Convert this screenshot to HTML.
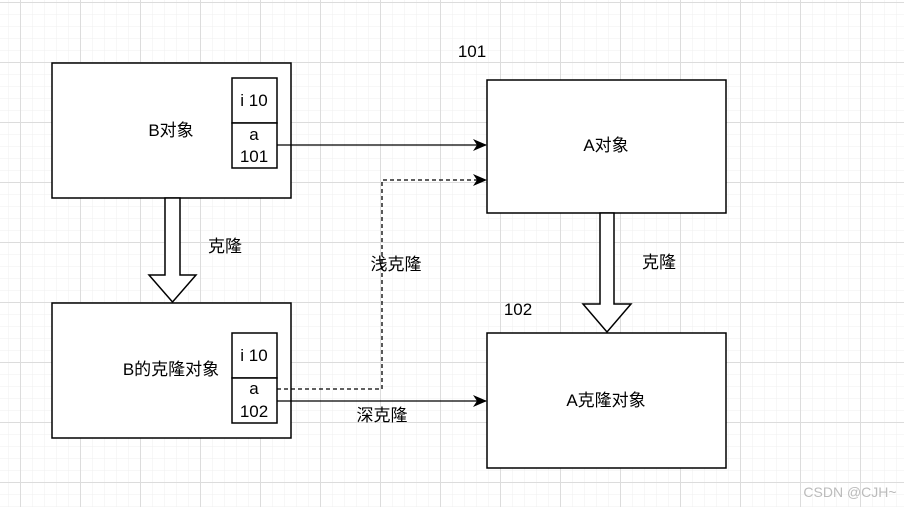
<!DOCTYPE html>
<html><head><meta charset="utf-8"><style>
body{margin:0;width:904px;height:507px;overflow:hidden;background:#fff;font-family:"Liberation Sans","Noto Sans CJK SC",sans-serif;}
</style></head><body>
<svg width="904" height="507" xmlns="http://www.w3.org/2000/svg" style="position:absolute;left:0;top:0">
<defs>
<pattern id="mn" width="12" height="12" patternUnits="userSpaceOnUse" x="8" y="2">
<path d="M0 0H12M0 0V12" stroke="#efefef" stroke-width="1" fill="none"/></pattern>
<pattern id="mj" width="60" height="60" patternUnits="userSpaceOnUse" x="20" y="2">
<path d="M0 0.5H60M0.5 0V60" stroke="#dcdcdc" stroke-width="1" fill="none"/></pattern>
<marker id="ar" markerWidth="14" markerHeight="12" refX="13" refY="6" orient="auto" markerUnits="userSpaceOnUse"><path d="M0 0L14 6L0 12L4 6Z" fill="#000"/></marker>
</defs>
<rect width="904" height="507" fill="url(#mn)"/>
<rect width="904" height="507" fill="url(#mj)"/>
<g stroke="#000" stroke-width="1.5" fill="#fff">
<rect x="52" y="63" width="239" height="135"/>
<rect x="487" y="80" width="239" height="133"/>
<rect x="52" y="303" width="239" height="135"/>
<rect x="487" y="333" width="239" height="135"/>
<rect x="232" y="78" width="45" height="45"/><rect x="232" y="123" width="45" height="45"/>
<rect x="232" y="333" width="45" height="45"/><rect x="232" y="378" width="45" height="45"/>
<path d="M165 198V275H149L172.5 302L196 275H180V198Z"/>
<path d="M600 213V304H583L607 332L631 304H614V213Z"/>
</g>
<g stroke="#000" stroke-width="1.3" fill="none">
<path d="M277 145H486" marker-end="url(#ar)"/>
<path d="M277 401H486" marker-end="url(#ar)"/>
<path d="M277 389H382V180H486" stroke-dasharray="4 3" marker-end="url(#ar)"/>
</g>
<g font-size="17" fill="#000" text-anchor="middle">
<text x="171" y="136">B对象</text>
<text x="606" y="151">A对象</text>
<text x="171" y="375">B的克隆对象</text>
<text x="606" y="406">A克隆对象</text>
<text x="254" y="106">i 10</text><text x="254" y="140">a</text><text x="254" y="162">101</text>
<text x="254" y="361">i 10</text><text x="254" y="394">a</text><text x="254" y="417">102</text>
<text x="225" y="252">克隆</text>
<text x="659" y="268">克隆</text>
<text x="396" y="270">浅克隆</text>
<text x="382" y="421">深克隆</text>
<text x="472" y="57">101</text>
<text x="518" y="315">102</text>
</g>
<text x="850" y="497" font-size="14" fill="#bbb" text-anchor="middle">CSDN @CJH~</text>
</svg>
</body></html>
